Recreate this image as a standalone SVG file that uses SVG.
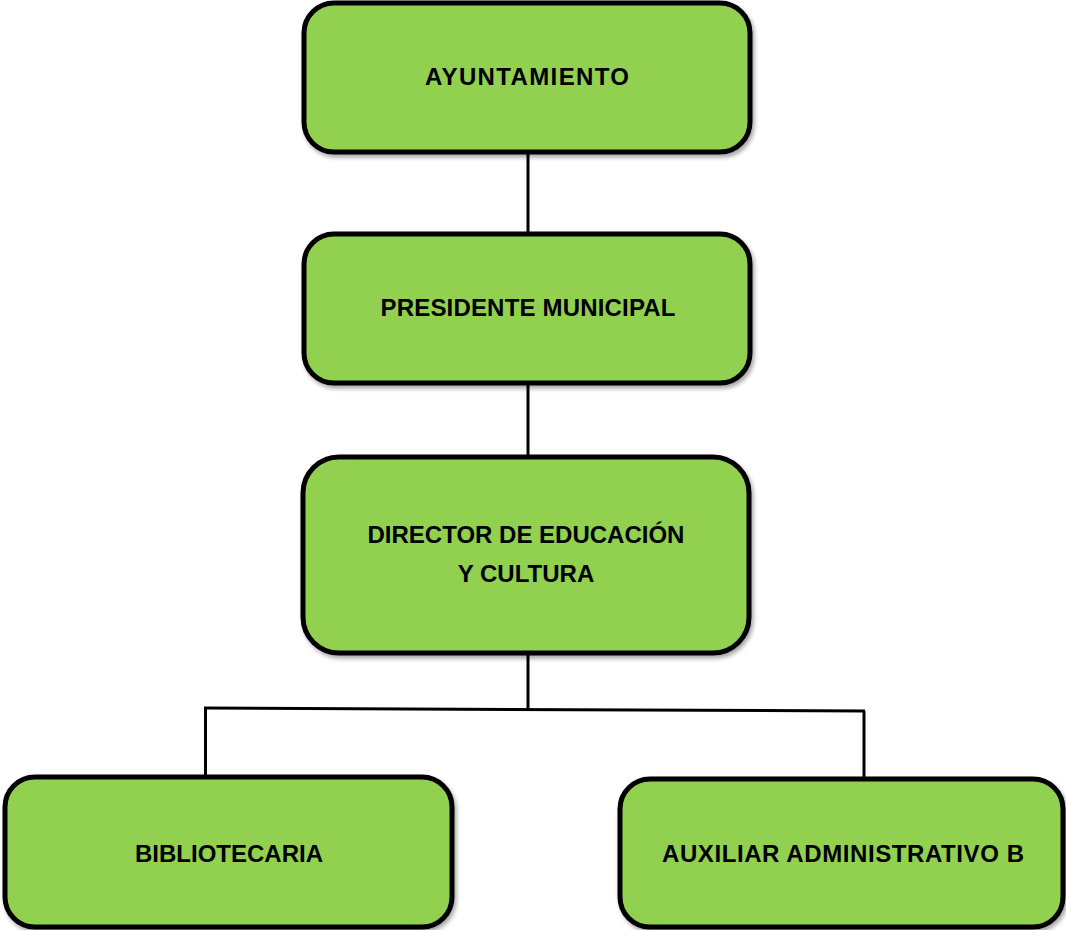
<svg xmlns="http://www.w3.org/2000/svg" width="1066" height="930" viewBox="0 0 1066 930">
<style>
.box{fill:#92d050;stroke:#000;stroke-width:5;filter:url(#sh)}
.t{font-family:"Liberation Sans",Arial,sans-serif;font-weight:bold;font-size:24px;fill:#000;text-anchor:middle}
.c{stroke:#000;stroke-width:3;fill:none}
</style>
<defs>
<filter id="sh" x="-5%" y="-5%" width="115%" height="120%">
<feDropShadow dx="2" dy="3" stdDeviation="2" flood-color="#000" flood-opacity="0.35"/>
</filter>
</defs>
<g id="connectors">
<line class="c" x1="528" y1="152" x2="528" y2="233"/>
<line class="c" x1="528" y1="383" x2="528" y2="457"/>
<line class="c" x1="528" y1="653" x2="528" y2="709"/>
<line class="c" x1="204" y1="708" x2="865" y2="711"/>
<line class="c" x1="205.5" y1="708" x2="205.5" y2="776"/>
<line class="c" x1="864" y1="711" x2="864" y2="778"/>
</g>
<g id="ayuntamiento">
<rect class="box" x="304" y="3" width="446" height="149" rx="30"/>
<text class="t" x="527" y="85" textLength="204" lengthAdjust="spacing">AYUNTAMIENTO</text>
</g>
<g id="presidente">
<rect class="box" x="304" y="234" width="446" height="149" rx="30"/>
<text class="t" x="528" y="316" textLength="295" lengthAdjust="spacing">PRESIDENTE MUNICIPAL</text>
</g>
<g id="director">
<rect class="box" x="303" y="457" width="446" height="196" rx="36"/>
<text class="t" x="526" y="543">DIRECTOR DE EDUCACIÓN</text>
<text class="t" x="526" y="582">Y CULTURA</text>
</g>
<g id="bibliotecaria">
<rect class="box" x="5" y="777" width="447" height="150" rx="30"/>
<text class="t" x="229" y="862">BIBLIOTECARIA</text>
</g>
<g id="auxiliar">
<rect class="box" x="620" y="779" width="443" height="148" rx="30"/>
<text class="t" x="843" y="862" textLength="362" lengthAdjust="spacing">AUXILIAR ADMINISTRATIVO B</text>
</g>
</svg>
